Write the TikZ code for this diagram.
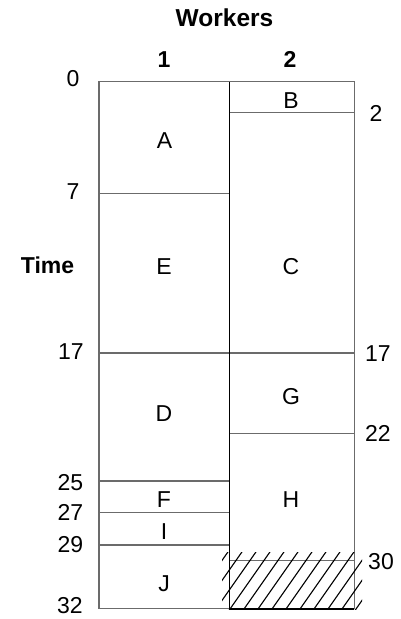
\documentclass[tikz,border=0pt]{standalone}
\usepackage{fontspec}
\setmainfont{Liberation Sans}
\begin{document}
\begin{tikzpicture}[x=1pt,y=-1pt,
  lbl/.style={inner sep=0pt,text height=16.5pt,text depth=0pt,font=\fontsize{23}{27}\selectfont},
  hdr/.style={lbl,font=\fontsize{23}{27}\selectfont\bfseries},
  gline/.style={draw=black!58,line width=1.1pt},
  hatchline/.style={draw=black,line width=1.1pt}]
\useasboundingbox (0,0) rectangle (400,619);
% coordinates
\coordinate (c1tl) at (99,81.7);
\coordinate (c1br) at (229.3,608.7);
\coordinate (c2tl) at (229.3,81.7);
\coordinate (c2br) at (354.3,608.7);
% columns
\draw[gline] (c1tl) rectangle (c1br);
\draw[gline] (c2tl) rectangle (c2br);
% worker 1 divisions
\foreach \yy in {193.3,353,481,512.7,545}
  \draw[gline] (99,\yy) -- (229.3,\yy);
% worker 2 divisions
\foreach \yy in {112.7,353,433.3,560.7}
  \draw[gline] (229.3,\yy) -- (354.3,\yy);
% hatched idle time
\begin{scope}
  \clip (222,552) rectangle (362,609.5);
  \foreach \xx in {160,174,...,370}
    \draw[hatchline] (\xx-7,619) -- (\xx+46.9,542);
\end{scope}
% middle line and bottom edge of worker 2
\draw[draw=black,line width=1.1pt] (c2tl) -- (229.3,608.7);
\draw[draw=black,line width=2pt] (229.3,608.7) -- (c2br);
% headers
\node[hdr,font=\fontsize{24.5}{28}\selectfont\bfseries] (workers) at (224.5,18) {Workers};
\node[hdr] (w1) at (164,59.5) {1};
\node[hdr] (w2) at (290,59.5) {2};
\node[hdr] (time) at (47.5,265) {Time};
% left time labels
\node[lbl] (t0) at (73,78.5) {0};
\node[lbl] (t7) at (73,191) {7};
\node[lbl] (t17) at (71,351) {17};
\node[lbl] (t25) at (70.5,482) {25};
\node[lbl] (t27) at (70.5,512.5) {27};
\node[lbl] (t29) at (70.5,544.5) {29};
\node[lbl] (t32) at (70,605.5) {32};
% right time labels
\node[lbl] (r2) at (376,113.5) {2};
\node[lbl] (r17) at (378,353) {17};
\node[lbl] (r22) at (378,433) {22};
\node[lbl] (r30) at (381,561) {30};
% tasks
\node[lbl] (A) at (164.5,140) {A};
\node[lbl] (B) at (291,100) {B};
\node[lbl] (E) at (164,266) {E};
\node[lbl] (C) at (291,266) {C};
\node[lbl] (D) at (164,413.5) {D};
\node[lbl] (G) at (291,396) {G};
\node[lbl] (F) at (164,499.5) {F};
\node[lbl] (H) at (291,499.5) {H};
\node[lbl] (I) at (164,531) {I};
\node[lbl] (J) at (164,583) {J};
\end{tikzpicture}
\end{document}
